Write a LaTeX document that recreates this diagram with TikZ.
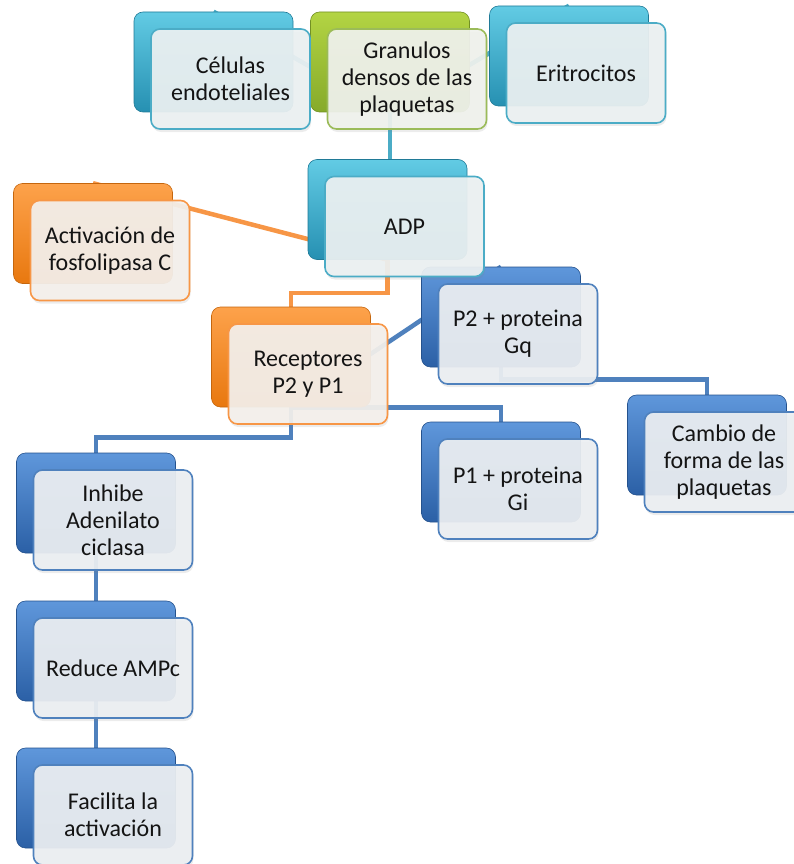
\documentclass[tikz,border=0pt]{standalone}
\usepackage{fontspec}
\setmainfont{Carlito}
\usetikzlibrary{shadows}

% palette: A = light top of a card, B = dark bottom, L = line / border
\definecolor{tealA}{HTML}{62CBE4}
\definecolor{tealB}{HTML}{2690B2}
\definecolor{tealL}{HTML}{4BACC6}
\definecolor{greenA}{HTML}{B3D443}
\definecolor{greenB}{HTML}{86AA2A}
\definecolor{greenL}{HTML}{9BBB59}
\definecolor{orangeA}{HTML}{FDA24B}
\definecolor{orangeB}{HTML}{E8780F}
\definecolor{orangeL}{HTML}{F79646}
\definecolor{blueA}{HTML}{5F97DB}
\definecolor{blueB}{HTML}{2B60A6}
\definecolor{blueL}{HTML}{4F81BD}

\pgfdeclarelayer{links}
\pgfsetlayers{links,main}

\tikzset{
  backbox/.style={rectangle, rounded corners=9pt, minimum width=159pt,
    minimum height=100pt, draw=#1B!85!black, line width=0.6pt,
    top color=#1A, bottom color=#1B},
  frontbox/.style={rectangle, rounded corners=9pt, minimum width=159pt,
    minimum height=100pt, draw=#1L, line width=1.6pt,
    fill=#1L!5!white!96!black, fill opacity=0.93, text opacity=1,
    drop shadow={shadow xshift=1pt, shadow yshift=-3pt, opacity=0.15},
    font=\fontsize{24}{27}\selectfont, align=center, text=black!92},
  link/.style={line width=4.5pt, draw=#1L},
}

\begin{document}
\begin{tikzpicture}[x=1pt,y=-1pt]
\useasboundingbox (0,0) rectangle (793,864);

% coloured back cards
\node[backbox=teal]   (cel-b) at (213.5,62)  {};
\node[backbox=green]  (gra-b) at (390,62)    {};
\node[backbox=teal]   (eri-b) at (569,56)    {};
\node[backbox=teal]   (adp-b) at (387.5,209.5) {};
\node[backbox=orange] (act-b) at (93,233.5)  {};
\node[backbox=orange] (rec-b) at (291,357)   {};
\node[backbox=blue]   (p2-b)  at (501,317)   {};
\node[backbox=blue]   (cam-b) at (707,445)   {};
\node[backbox=blue]   (p1-b)  at (501,472)   {};
\node[backbox=blue]   (inh-b) at (96,503)    {};
\node[backbox=blue]   (red-b) at (96,651)    {};
\node[backbox=blue]   (fac-b) at (96,798)    {};

% light front cards carrying the text
\node[frontbox=teal]   (cel) at (230.5,79)  {Células\\endoteliales};
\node[frontbox=green]  (gra) at (407,79)    {Granulos\\densos de las\\plaquetas};
\node[frontbox=teal]   (eri) at (586,73)    {Eritrocitos};
\node[frontbox=teal]   (adp) at (404.5,226.5) {ADP};
\node[frontbox=orange] (act) at (110,250.5) {Activación de\\fosfolipasa C};
\node[frontbox=orange] (rec) at (308,374)   {Receptores\\P2 y P1};
\node[frontbox=blue]   (p2)  at (518,334)   {P2 + proteina\\Gq};
\node[frontbox=blue]   (cam) at (724,462)   {Cambio de\\forma de las\\plaquetas};
\node[frontbox=blue]   (p1)  at (518,489)   {P1 + proteina\\Gi};
\node[frontbox=blue]   (inh) at (113,520)   {Inhibe\\Adenilato\\ciclasa};
\node[frontbox=blue]   (red) at (113,668)   {Reduce AMPc};
\node[frontbox=blue]   (fac) at (113,815)   {Facilita la\\activación};

% connectors, kept behind the cards
\begin{pgfonlayer}{links}
  \draw[link=teal] (gra-b.south) -- (cel-b.north);
  \draw[link=teal] (gra-b.south) -- (eri-b.north);
  \draw[link=teal] (gra-b.south) -- (gra-b.south |- adp-b.north);
  \draw[link=orange] (adp-b.south) -- (act-b.north);
  \draw[link=orange] (adp-b.south) -- ++(0,33) -| (rec-b.north);
  \draw[link=blue] (rec-b.south) -- (p2-b.north);
  \draw[link=blue] (rec-b.south) -| (p1-b.north);
  \draw[link=blue] (rec-b.south) -- ++(0,30) -| (inh-b.north);
  \draw[link=blue] (p2-b.south) -- ++(0,12) -| (cam-b.north);
  \draw[link=blue] (inh-b.south) -- (red-b.north);
  \draw[link=blue] (red-b.south) -- (fac-b.north);
\end{pgfonlayer}
\end{tikzpicture}
\end{document}
